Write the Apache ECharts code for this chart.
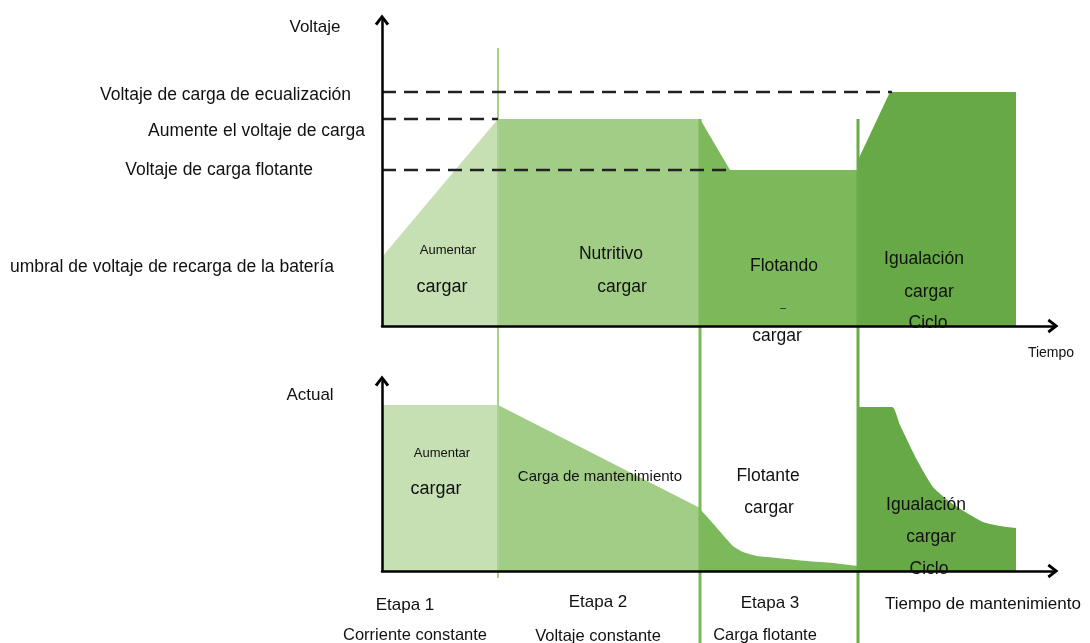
<!DOCTYPE html>
<html>
<head>
<meta charset="utf-8">
<script src="https://cdn.jsdelivr.net/npm/echarts@6/dist/echarts.min.js"></script>
<style>
  html, body { margin: 0; padding: 0; background: #fff; }
  #main { width: 1090px; height: 643px; }
</style>
</head>
<body>
<div id="main"></div>
<script>
// tiempo en unidades del esquema (0 = origen)
const stageBounds = [116, 318, 476]

// voltaje (unidades del esquema)
const voltBoost = [[0, 69], [116, 207]]
const voltAbsorb = [[116, 207], [318, 207]]
const voltFloat = [[318, 207], [348, 156], [476, 156]]
const voltEqual = [[476, 166], [508, 234], [634, 234]]

// niveles de referencia (líneas discontinuas)
const levelEqual = [[0, 234], [510, 234]]
const levelBoost = [[0, 207], [116, 207]]
const levelFloat = [[0, 156], [348, 156]]

// corriente
const currBoost = [[0, 166], [116, 166]]
const currAbsorb = [[116, 166], [318, 63]]
const currFloat = [[318, 62], [328, 51], [341, 36], [351, 25], [361, 19], [375, 15], [395, 13], [425, 10], [451, 8], [476, 5]]
const currEqual = [[476, 164], [510, 164], [518, 146], [535, 111], [551, 84], [568, 69], [585, 58], [601, 49], [618, 45], [634, 43]]

const C_LIGHT = '#c6e0b4'
const C_MID = '#a2cd86'
const C_FLOAT = '#7cb95b'
const C_EQUAL = '#67a946'

const chevron = 'path://M0,9 L7,0 L14,9 L11.6,10.6 L7,4.4 L2.4,10.6 Z'
const FONT = '"Liberation Sans", Arial, sans-serif'

const chart = echarts.init(document.getElementById('main'))

function axis (extra) {
  return Object.assign({
    type: 'value',
    min: 0,
    z: 6,
    axisLine: {
      show: true,
      symbol: ['none', chevron],
      symbolSize: [15, 11],
      lineStyle: { color: '#000', width: 2.5 }
    },
    axisTick: { show: false },
    axisLabel: { show: false },
    splitLine: { show: false }
  }, extra)
}

function area (data, color, xi, smooth) {
  return {
    type: 'line',
    xAxisIndex: xi,
    yAxisIndex: xi,
    data: data,
    smooth: smooth ? 0.2 : false,
    showSymbol: false,
    silent: true,
    lineStyle: { width: 0, color: color },
    areaStyle: { color: color, opacity: 1 }
  }
}

function dashed (data) {
  return {
    type: 'line',
    xAxisIndex: 0,
    yAxisIndex: 0,
    data: data,
    showSymbol: false,
    silent: true,
    z: 4,
    lineStyle: { color: '#222', width: 2.5, type: [14, 8] }
  }
}

function boundary (x, top, bottom, color, width) {
  return {
    type: 'line',
    xAxisIndex: 2,
    yAxisIndex: 2,
    data: [[x, top], [x, bottom]],
    showSymbol: false,
    silent: true,
    z: 3,
    lineStyle: { color: color, width: width }
  }
}

function txt (x, y, text, size, align) {
  return {
    type: 'text',
    x: x,
    y: y,
    z: 10,
    style: {
      text: text,
      fill: '#111',
      font: size + 'px ' + FONT,
      align: align || 'center',
      verticalAlign: 'middle'
    }
  }
}

chart.setOption({
  animation: false,
  grid: [
    { left: 382, right: 37, top: 20, bottom: 317 },
    { left: 382, right: 37, top: 381, bottom: 72 },
    { left: 382, right: 37, top: 0, bottom: 0 }
  ],
  xAxis: [
    axis({ gridIndex: 0, max: 671 }),
    axis({ gridIndex: 1, max: 671 }),
    { type: 'value', gridIndex: 2, min: 0, max: 671, show: false }
  ],
  yAxis: [
    axis({ gridIndex: 0, max: 306 }),
    axis({ gridIndex: 1, max: 190 }),
    { type: 'value', gridIndex: 2, min: 0, max: 643, inverse: true, show: false }
  ],
  series: [
    area(voltBoost, C_LIGHT, 0),
    area(voltAbsorb, C_MID, 0),
    area(voltFloat, C_FLOAT, 0),
    area(voltEqual, C_EQUAL, 0),
    dashed(levelEqual),
    dashed(levelBoost),
    dashed(levelFloat),
    area(currBoost, C_LIGHT, 1),
    area(currAbsorb, C_MID, 1),
    area(currFloat, C_FLOAT, 1, true),
    area(currEqual, C_EQUAL, 1, true),
    boundary(stageBounds[0], 48, 578, '#a9d18e', 2),
    boundary(stageBounds[1], 119, 643, C_FLOAT, 3),
    boundary(stageBounds[2], 119, 643, '#6aab4a', 3)
  ],
  graphic: [
    txt(315, 27, 'Voltaje', 17),
    txt(351, 95, 'Voltaje de carga de ecualización', 17.5, 'right'),
    txt(365, 131, 'Aumente el voltaje de carga', 17.5, 'right'),
    txt(313, 170, 'Voltaje de carga flotante', 17.5, 'right'),
    txt(10, 267, 'umbral de voltaje de recarga de la batería', 17.5, 'left'),
    txt(448, 250, 'Aumentar', 13),
    txt(442, 287, 'cargar', 18),
    txt(611, 254, 'Nutritivo', 17.5),
    txt(622, 287, 'cargar', 17.5),
    txt(784, 266, 'Flotando', 17.5),
    txt(783, 308, '–', 10),
    txt(777, 336, 'cargar', 17.5),
    txt(924, 259, 'Igualación', 17.5),
    txt(929, 292, 'cargar', 17.5),
    txt(928, 323, 'Ciclo', 17.5),
    txt(1051, 353, 'Tiempo', 14),
    txt(310, 395, 'Actual', 17),
    txt(442, 453, 'Aumentar', 13),
    txt(436, 489, 'cargar', 18),
    txt(600, 477, 'Carga de mantenimiento', 15),
    txt(768, 476, 'Flotante', 17.5),
    txt(769, 508, 'cargar', 17.5),
    txt(926, 505, 'Igualación', 17.5),
    txt(931, 537, 'cargar', 17.5),
    txt(929, 569, 'Ciclo', 17.5),
    txt(405, 605, 'Etapa 1', 17),
    txt(598, 602, 'Etapa 2', 17),
    txt(770, 603, 'Etapa 3', 17),
    txt(983, 604, 'Tiempo de mantenimiento', 17),
    txt(415, 635, 'Corriente constante', 16.5),
    txt(598, 636, 'Voltaje constante', 16.5),
    txt(765, 635, 'Carga flotante', 16.5)
  ]
})
</script>
</body>
</html>
